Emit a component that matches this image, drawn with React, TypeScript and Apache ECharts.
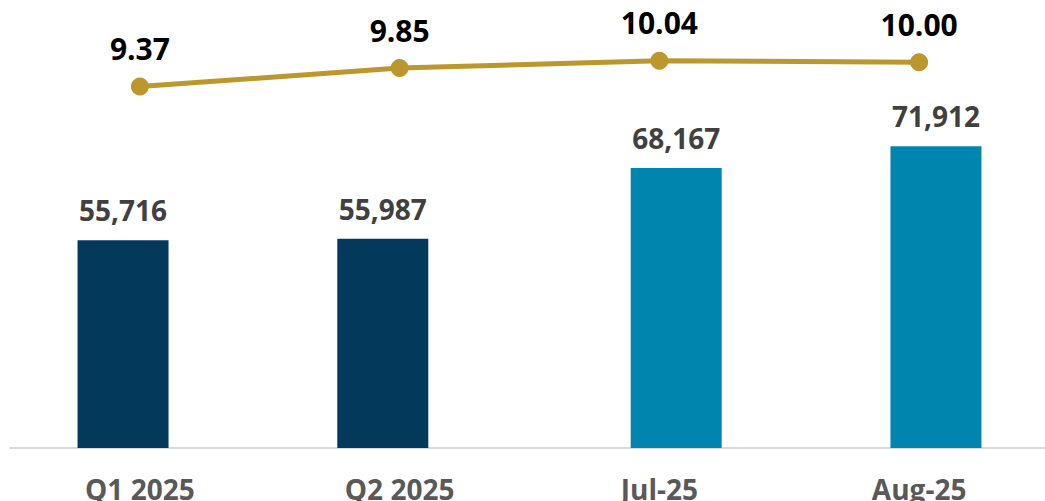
import React, { useEffect, useRef } from "react";
import * as echarts from "echarts";

const categories = ["Q1 2025", "Q2 2025", "Jul-25", "Aug-25"];
const quarterlyValues = [55716, 55987, null, null];
const monthlyValues = [null, null, 68167, 71912];
const lineValues = [9.37, 9.85, 10.04, 10.0];

const FONT = "'Open Sans', sans-serif";

export default function App() {
  const ref = useRef<HTMLDivElement>(null);
  useEffect(() => {
    if (!ref.current) return;
    const chart = echarts.init(ref.current, undefined, { renderer: "svg" });
    const barLabel = {
      show: true,
      position: "top" as const,
      distance: 16,
      color: "#404040",
      fontFamily: FONT,
      fontWeight: "bold" as const,
      fontSize: 28,
      formatter: (p: any) => Number(p.value).toLocaleString("en-US"),
    };
    chart.setOption({
      animation: false,
      grid: {
        left: 10,
        width: 1039,
        top: 41,
        bottom: 53,
        containLabel: false,
        outerBoundsMode: "none",
      },
      xAxis: {
        type: "category",
        data: categories,
        axisLine: { show: true, lineStyle: { color: "#d9d9d9", width: 2 } },
        axisTick: { show: false },
        axisLabel: {
          color: "#595959",
          fontFamily: FONT,
          fontWeight: "bold",
          fontSize: 28,
          margin: 27,
          interval: 0,
        },
      },
      yAxis: [
        { type: "value", min: 20000, max: 90000, show: false, splitLine: { show: false } },
        { type: "value", min: 0, max: 10.55, show: false, splitLine: { show: false } },
      ],
      series: [
        {
          type: "bar",
          data: quarterlyValues,
          barWidth: 91,
          barGap: "-63%",
          itemStyle: { color: "#033A5C" },
          label: barLabel,
        },
        {
          type: "bar",
          data: monthlyValues,
          barWidth: 91,
          itemStyle: { color: "#0085AF" },
          label: barLabel,
        },
        {
          type: "line",
          yAxisIndex: 1,
          data: lineValues,
          symbol: "circle",
          symbolSize: 18,
          lineStyle: { color: "#BC972D", width: 5 },
          itemStyle: { color: "#BC972D" },
          z: 5,
          label: {
            show: true,
            position: "top",
            distance: 14,
            color: "#000000",
            fontFamily: FONT,
            fontWeight: "bold",
            fontSize: 30,
            formatter: (p: any) => Number(p.value).toFixed(2),
          },
        },
      ],
    });
    return () => chart.dispose();
  }, []);
  return (
    <div
      ref={ref}
      style={{ position: "absolute", left: 0, top: 0, width: 1045, height: 501, background: "#fff" }}
    />
  );
}
